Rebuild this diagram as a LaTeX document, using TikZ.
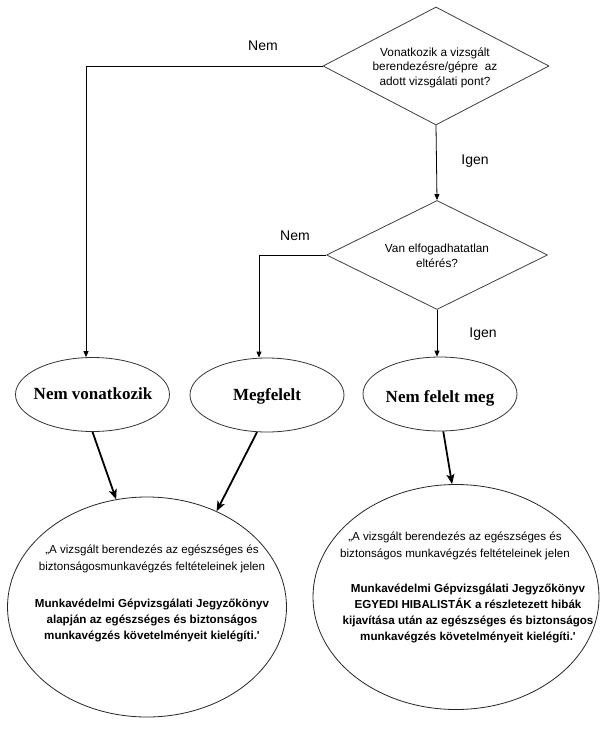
\documentclass[tikz,border=0pt]{standalone}
\usepackage{fontspec}
\setmainfont{Liberation Sans}
\newfontfamily\timesfont{Liberation Serif}
\usetikzlibrary{shapes.geometric,arrows.meta,calc}
\begin{document}
\begin{tikzpicture}[x=1pt,y=-1pt,
  dia/.style={diamond,draw=black!75,line width=0.8pt,inner sep=0pt},
  res/.style={ellipse,draw=black!80,line width=0.8pt,inner sep=0pt,minimum width=154pt,minimum height=74pt},
  big/.style={ellipse,draw=black!85,line width=0.8pt,inner sep=0pt},
  restext/.style={anchor=base,inner sep=0pt,font=\timesfont\bfseries\fontsize{17}{20}\selectfont},
  qtext/.style={align=center,inner sep=0pt,font=\fontsize{11.8}{14.5}\selectfont},
  lbl/.style={inner sep=0pt,font=\fontsize{14}{16}\selectfont},
  btext/.style={align=center,inner sep=0pt,font=\fontsize{11.6}{16.3}\selectfont},
  bbold/.style={btext,font=\fontsize{11.6}{16}\selectfont\bfseries},
  flow/.style={draw=black,line width=0.8pt,-{Triangle[length=6pt,width=5pt]}},
  fat/.style={draw=black,line width=1.8pt,-{Stealth[length=10pt,width=8pt,inset=2.5pt]}}
]
\useasboundingbox (0,0) rectangle (605,731);
\fill[white] (0,0) rectangle (605,731);

% decisions
\node[dia,minimum width=226pt,minimum height=118pt] (d1) at (436,66) {};
\node[qtext] (d1t) at (435,67.5) {Vonatkozik a vizsgált\\berendezésre/gépre\ \ az\\adott vizsgálati pont?};
\node[dia,minimum width=221pt,minimum height=109pt] (d2) at (437,255) {};
\node[qtext] (d2t) at (437,256) {Van elfogadhatatlan\\eltérés?};

% results
\node[res] (e1) at (92.5,394.5) {};
\node[restext] (e1t) at (93,399.5) {Nem vonatkozik};
\node[res] (e2) at (267,395) {};
\node[restext] (e2t) at (267,400) {Megfelelt};
\node[res] (e3) at (440,394) {};
\node[restext] (e3t) at (440,402.5) {Nem felelt meg};

% big ellipses
\node[big,minimum width=279pt,minimum height=220pt] (b1) at (147,607) {};
\node[btext] (b1a) at (152,559) {„A vizsgált berendezés az egészséges és\\biztonságosmunkavégzés feltételeinek jelen};
\node[bbold] (b1b) at (152,620) {Munkavédelmi Gépvizsgálati Jegyzőkönyv\\alapján az egészséges és biztonságos\\munkavégzés követelményeit kielégíti.\textquotesingle};

\node[big,minimum width=286pt,minimum height=225pt] (b2) at (456,597) {};
\node[btext] (b2a) at (455,546) {„A vizsgált berendezés az egészséges és\\biztonságos munkavégzés feltételeinek jelen};
\node[bbold] (b2b) at (468,613) {Munkavédelmi Gépvizsgálati Jegyzőkönyv\\EGYEDI HIBALISTÁK a részletezett hibák\\kijavítása után az egészséges és biztonságos\\munkavégzés követelményeit kielégíti.\textquotesingle};

% labels
\node[lbl] (l1) at (263,46) {Nem};
\node[lbl] (l2) at (475,161) {Igen};
\node[lbl] (l3) at (295,236) {Nem};
\node[lbl] (l4) at (483,334) {Igen};

% connectors
\draw[flow] (d1.west) -| ($(e1.north)+(-6.5,0)$);
\draw[flow] (d1.south) -- (d2.north);
\draw[flow] (d2.west) -| ($(e2.north)+(-8,0)$);
\draw[flow] (d2.south) -- (d2.south |- e3.north);
\draw[fat] (e1.south) -- (b1.106);
\draw[fat] (e2.255) -- (b1.54);
\draw[fat] (e3.275) -- (b2.92);
\end{tikzpicture}
\end{document}
